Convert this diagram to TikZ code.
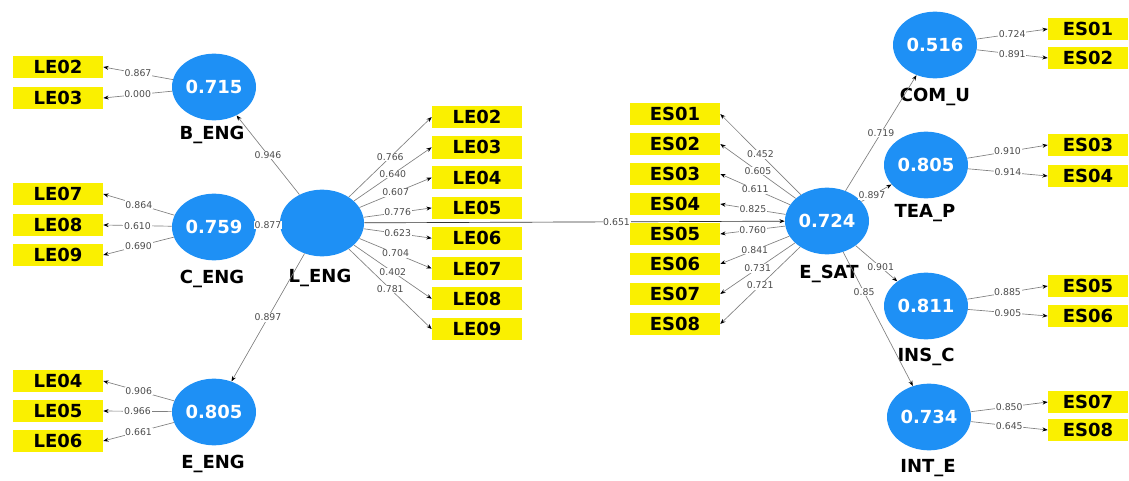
\documentclass[tikz,border=0pt]{standalone}
\usepackage{fontspec}
\setmainfont{DejaVu Sans}
\usetikzlibrary{shapes.geometric,arrows.meta,positioning}
\definecolor{latblue}{RGB}{30,144,245}
\definecolor{indyellow}{RGB}{250,240,0}
\tikzset{
  latent/.style={ellipse, fill=latblue, minimum width=63pt, minimum height=50pt, inner sep=0pt, text=white, font=\fontsize{13.5}{15}\selectfont\bfseries},
  ind/.style={fill=indyellow, minimum width=67.5pt, minimum height=17pt, inner sep=0pt, font=\fontsize{13.5}{15}\selectfont\bfseries},
  indr/.style={ind, minimum width=60pt},
  lname/.style={font=\fontsize{13.5}{15}\selectfont\bfseries},
  link/.style={draw=gray, line width=0.5pt, -{Stealth[length=4pt,width=3pt,black]}},
  coef/.style={fill=white, inner sep=0.5pt, font=\fontsize{7}{8}\selectfont, text=black!70},
}
\begin{document}
\begin{tikzpicture}[x=0.75pt,y=-0.75pt]
  \useasboundingbox (0,0) rectangle (1129,481);

  % latent variables
  \node[latent] (bEng) at (214,87) {0.715};
  \node[latent] (cEng) at (214,227) {0.759};
  \node[latent] (eEng) at (214,412) {0.805};
  \node[latent] (lEng) at (322,223) {};
  \node[latent] (eSat) at (827,221) {0.724};
  \node[latent] (comU) at (935,45) {0.516};
  \node[latent] (teaP) at (926,165) {0.805};
  \node[latent] (insC) at (926,306) {0.811};
  \node[latent] (intE) at (929,417) {0.734};

  % names
  \node[lname] at (212,135) {B\_ENG};
  \node[lname] at (212,279) {C\_ENG};
  \node[lname] at (213,464) {E\_ENG};
  \node[lname] at (320,278) {L\_ENG};
  \node[lname] at (829,274) {E\_SAT};
  \node[lname] at (935,97) {COM\_U};
  \node[lname] at (925,213) {TEA\_P};
  \node[lname] at (926,357) {INS\_C};
  \node[lname] at (928,468) {INT\_E};

  % structural paths
  \draw[link] (lEng) -- node[coef]{0.946} (bEng);
  \draw[link] (lEng) -- node[coef]{0.877} (cEng);
  \draw[link] (lEng) -- node[coef]{0.897} (eEng);
  \draw[link, draw=black!80] (lEng) -- node[coef, pos=0.6]{0.651} (eSat);
  \draw[link] (eSat) -- node[coef]{0.719} (comU);
  \draw[link] (eSat) -- node[coef, pos=0.35]{0.897} (teaP);
  \draw[link] (eSat) -- node[coef, pos=0.6]{0.901} (insC);
  \draw[link] (eSat) -- node[coef, pos=0.3]{0.85} (intE);

  % first order indicators
  \foreach \i/\y/\w in {02/67/0.867,03/98/0.000}{
    \node[ind] (le\i b) at (58,\y) {LE\i};
    \draw[link] (bEng) -- node[coef]{\w} (le\i b.east);
  }
  \foreach \i/\y/\w in {07/194/0.864,08/225/0.610,09/255/0.690}{
    \node[ind] (le\i c) at (58,\y) {LE\i};
    \draw[link] (cEng) -- node[coef]{\w} (le\i c.east);
  }
  \foreach \i/\y/\w in {04/381/0.906,05/411/0.966,06/441/0.661}{
    \node[ind] (le\i e) at (58,\y) {LE\i};
    \draw[link] (eEng) -- node[coef]{\w} (le\i e.east);
  }
  \foreach \i/\w [count=\k from 0] in {02/0.766,03/0.640,04/0.607,05/0.776,06/0.623,07/0.704,08/0.402,09/0.781}{
    \node[ind] (le\i l) at (477,{117+30.3*\k}) {LE\i};
    \draw[link] (lEng) -- node[coef]{\w} (le\i l.west);
  }
  \foreach \i/\w [count=\k from 0] in {01/0.452,02/0.605,03/0.611,04/0.825,05/0.760,06/0.841,07/0.731,08/0.721}{
    \node[ind] (es\i s) at (675,{114+30*\k}) {ES\i};
    \draw[link] (eSat) -- node[coef]{\w} (es\i s.east);
  }

  % second order indicators
  \foreach \lat/\i/\y/\w in {comU/01/29/0.724,comU/02/58/0.891,teaP/03/145/0.910,teaP/04/176/0.914,
      insC/05/286/0.885,insC/06/316/0.905,intE/07/402/0.850,intE/08/430/0.645}{
    \node[indr] (es\i) at (1088,\y) {ES\i};
    \draw[link] (\lat) -- node[coef]{\w} (es\i.west);
  }
\end{tikzpicture}
\end{document}
